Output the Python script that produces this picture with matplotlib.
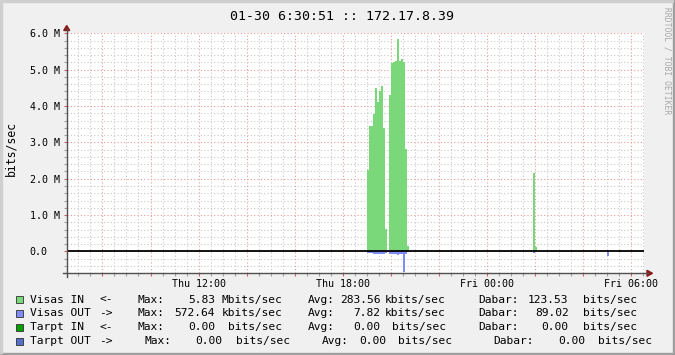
import matplotlib
matplotlib.use('Agg')
import matplotlib.pyplot as plt
from matplotlib.patches import Rectangle, Polygon
from matplotlib.lines import Line2D
from matplotlib.ticker import FixedLocator, MultipleLocator

W, H = 675, 355

plt.rcParams['font.family'] = 'DejaVu Sans Mono'

# 24 h window, hours counted from Thu 00:00
t_start = 6 + 30 / 60 + 51 / 3600
t_end = t_start + 24

title = '01-30 6:30:51 :: 172.17.8.39'

# 5 minute samples (start of each step)
in_times = ['Thu 19:00', 'Thu 19:05', 'Thu 19:10', 'Thu 19:15', 'Thu 19:20',
            'Thu 19:25', 'Thu 19:30', 'Thu 19:35', 'Thu 19:40', 'Thu 19:45',
            'Thu 19:55', 'Thu 20:00', 'Thu 20:05', 'Thu 20:10', 'Thu 20:15',
            'Thu 20:20', 'Thu 20:25', 'Thu 20:30', 'Thu 20:35', 'Thu 20:40',
            'Thu 21:55', 'Fri 01:55', 'Fri 02:00', 'Fri 05:00', 'Fri 05:30']
in_mbits = [2.25, 3.46, 3.46, 3.78, 4.49, 4.10, 4.40, 4.55, 3.40, 0.62,
            4.31, 5.18, 5.22, 5.24, 5.83, 5.24, 5.30, 5.20, 2.83, 0.15,
            0.02, 2.16, 0.12, 0.03, 0.05]

out_times = ['Thu 19:00', 'Thu 19:05', 'Thu 19:10', 'Thu 19:15', 'Thu 19:20',
             'Thu 19:25', 'Thu 19:30', 'Thu 19:35', 'Thu 19:40', 'Thu 19:45',
             'Thu 19:55', 'Thu 20:00', 'Thu 20:05', 'Thu 20:10', 'Thu 20:15',
             'Thu 20:20', 'Thu 20:25', 'Thu 20:30', 'Thu 20:35', 'Thu 20:40',
             'Fri 01:55', 'Fri 05:00', 'Fri 05:30']
out_kbits = [50, 55, 55, 60, 75, 80, 80, 75, 60, 50,
             60, 65, 65, 65, 95, 65, 65, 572.64, 60, 20,
             30, 120, 20]

x_tick_hours = [12, 18, 24, 30]
x_tick_labels = ['Thu 12:00', 'Thu 18:00', 'Fri 00:00', 'Fri 06:00']
y_ticks = [0, 1e6, 2e6, 3e6, 4e6, 5e6, 6e6]
y_tick_labels = ['0.0', '1.0 M', '2.0 M', '3.0 M', '4.0 M', '5.0 M', '6.0 M']

legend_names = ['Visas IN', 'Visas OUT', 'Tarpt IN', 'Tarpt OUT']
legend_dirs = ['<-', '->', '<-', '->']
legend_colors = ['#7ad87a', '#7f8cf8', '#00a000', '#5470c8']
max_txt = [('5.83', 'Mbits/sec'), ('572.64', 'kbits/sec'), ('0.00', 'bits/sec'), ('0.00', 'bits/sec')]
avg_txt = [('283.56', 'kbits/sec'), ('7.82', 'kbits/sec'), ('0.00', 'bits/sec'), ('0.00', 'bits/sec')]
cur_txt = [('123.53', 'bits/sec'), ('89.02', 'bits/sec'), ('0.00', 'bits/sec'), ('0.00', 'bits/sec')]


def to_hours(s):
    day, hm = s.split()
    h, m = hm.split(':')
    return (24 if day == 'Fri' else 0) + int(h) + int(m) / 60


def fx(x):
    return x / W


def fy(y):
    return 1 - y / H


fig = plt.figure(figsize=(W / 100, H / 100), dpi=100)
fig.patch.set_facecolor('#f0f0f0')

# 3d frame
fig.patches.append(Rectangle((0, 0), 1, 2 / H, transform=fig.transFigure, color='#9e9e9e', zorder=0))
fig.patches.append(Rectangle((1 - 2 / W, 0), 2 / W, 1, transform=fig.transFigure, color='#9e9e9e', zorder=0))
fig.patches.append(Rectangle((0, 2 / H), 2 / W, 1, transform=fig.transFigure, color='#cfcfcf', zorder=0))
fig.patches.append(Rectangle((0, 1 - 2 / H), 1 - 2 / W, 2 / H, transform=fig.transFigure, color='#cfcfcf', zorder=0))

x0, x1, ytop, ybot = 66.7, 643.7, 33.3, 273.3
ax = fig.add_axes([fx(x0), fy(ybot), fx(x1 - x0), (ybot - ytop) / H])
ax.set_facecolor('white')
ax.set_xlim(t_start, t_end)
ax.set_ylim(-0.6e6, 6.0e6)
for s in ax.spines.values():
    s.set_visible(False)

# grid
minor_kw = dict(color='#c8c8c8', lw=0.8, ls=(0, (1, 2)), zorder=1)
major_kw = dict(color='#e89a9a', lw=0.8, ls=(0, (1, 2)), zorder=1)
h = 7.0
while h < t_end:
    if h % 2 == 0:
        ax.axvline(h, **major_kw)
    else:
        ax.axvline(h, **minor_kw)
    h += 0.5
for k in range(-3, 31):
    v = k * 0.2e6
    if k % 5 == 0:
        ax.axhline(v, **major_kw)
    else:
        ax.axhline(v, **minor_kw)

# data
ax.bar([to_hours(t) for t in in_times], [v * 1e6 for v in in_mbits], width=5 / 60,
       align='edge', color=legend_colors[0], linewidth=0, zorder=2)
ax.bar([to_hours(t) for t in out_times], [-v * 1e3 for v in out_kbits], width=5 / 60,
       align='edge', color=legend_colors[1], linewidth=0, zorder=2)
ax.axhline(0, color='black', lw=1.3, zorder=3)

# ticks
ax.xaxis.set_major_locator(FixedLocator(list(range(8, 31, 2))))
ax.xaxis.set_minor_locator(MultipleLocator(0.5))
ax.set_xticklabels([x_tick_labels[x_tick_hours.index(t)] if t in x_tick_hours else ''
                    for t in range(8, 31, 2)])
ax.yaxis.set_major_locator(FixedLocator(y_ticks))
ax.yaxis.set_minor_locator(MultipleLocator(0.2e6))
ax.set_yticklabels(y_tick_labels)
ax.tick_params(axis='x', which='major', length=2.5, width=0.8, color='#d06060', pad=1.5, labelsize=7.2)
ax.tick_params(axis='x', which='minor', length=2, width=0.8, color='#a0a0a0')
ax.tick_params(axis='y', which='major', length=2.5, width=0.8, color='#d06060', pad=24.2, labelsize=7.2)
ax.tick_params(axis='y', which='minor', length=2, width=0.8, color='#a0a0a0')
for lab in ax.get_yticklabels():
    lab.set_ha('left')

# axes lines and arrows
fig.lines.append(Line2D([fx(x0), fx(x0)], [fy(277), fy(29)], transform=fig.transFigure, color='#505050', lw=1))
fig.lines.append(Line2D([fx(63), fx(648)], [fy(ybot), fy(ybot)], transform=fig.transFigure, color='#505050', lw=1))
fig.patches.append(Polygon([(fx(x0 - 3), fy(30.5)), (fx(x0 + 3), fy(30.5)), (fx(x0), fy(25.5))],
                           closed=True, transform=fig.transFigure, color='#8b1a1a'))
fig.patches.append(Polygon([(fx(647), fy(ybot - 3)), (fx(647), fy(ybot + 3)), (fx(652.5), fy(ybot))],
                           closed=True, transform=fig.transFigure, color='#8b1a1a'))

# texts
fig.text(fx(342), fy(16), title, ha='center', va='center', fontsize=9.5)
fig.text(fx(11), fy(148), 'bits/sec', rotation=90, ha='center', va='center', fontsize=8.3)
fig.text(fx(667.5), fy(61), 'RRDTOOL / TOBI OETIKER', rotation=270, ha='center', va='center',
         fontsize=5.8, color='#a8a8a8')

# legend
row_y = [299.7, 313.3, 327.3, 341.3]
for i in range(4):
    y = fy(row_y[i])
    fig.patches.append(Rectangle((fx(15.5), fy(row_y[i] + 3.5)), 7 / W, 7 / H,
                                 transform=fig.transFigure, facecolor=legend_colors[i],
                                 edgecolor='#303030', lw=0.6))
    sh = 7.5 if i == 3 else 0
    sh2 = 13.4 if i == 3 else 0
    sh3 = 15 if i == 3 else 0
    kw = dict(va='center', fontsize=8.1)
    fig.text(fx(30.5), y, legend_names[i], ha='left', **kw)
    fig.text(fx(99.5), y, legend_dirs[i], ha='left', **kw)
    fig.text(fx(137 + sh), y, 'Max:', ha='left', **kw)
    fig.text(fx(215 + sh), y, max_txt[i][0], ha='right', **kw)
    fig.text(fx(221.5 + (6.8 if max_txt[i][1][0] == 'b' else 0) + sh), y, max_txt[i][1], ha='left', **kw)
    fig.text(fx(308 + sh2), y, 'Avg:', ha='left', **kw)
    fig.text(fx(380.5 + sh2 * 0.45), y, avg_txt[i][0], ha='right', **kw)
    fig.text(fx(385 + (6.8 if avg_txt[i][1][0] == 'b' else 0) + sh2 * 0.5), y, avg_txt[i][1], ha='left', **kw)
    fig.text(fx(478 + sh3), y, 'Dabar:', ha='left', **kw)
    fig.text(fx(568.5 + sh3 * 1.1), y, cur_txt[i][0], ha='right', **kw)
    fig.text(fx(583 + sh3), y, cur_txt[i][1], ha='left', **kw)

fig.savefig('out.png', dpi=100, facecolor=fig.get_facecolor())
